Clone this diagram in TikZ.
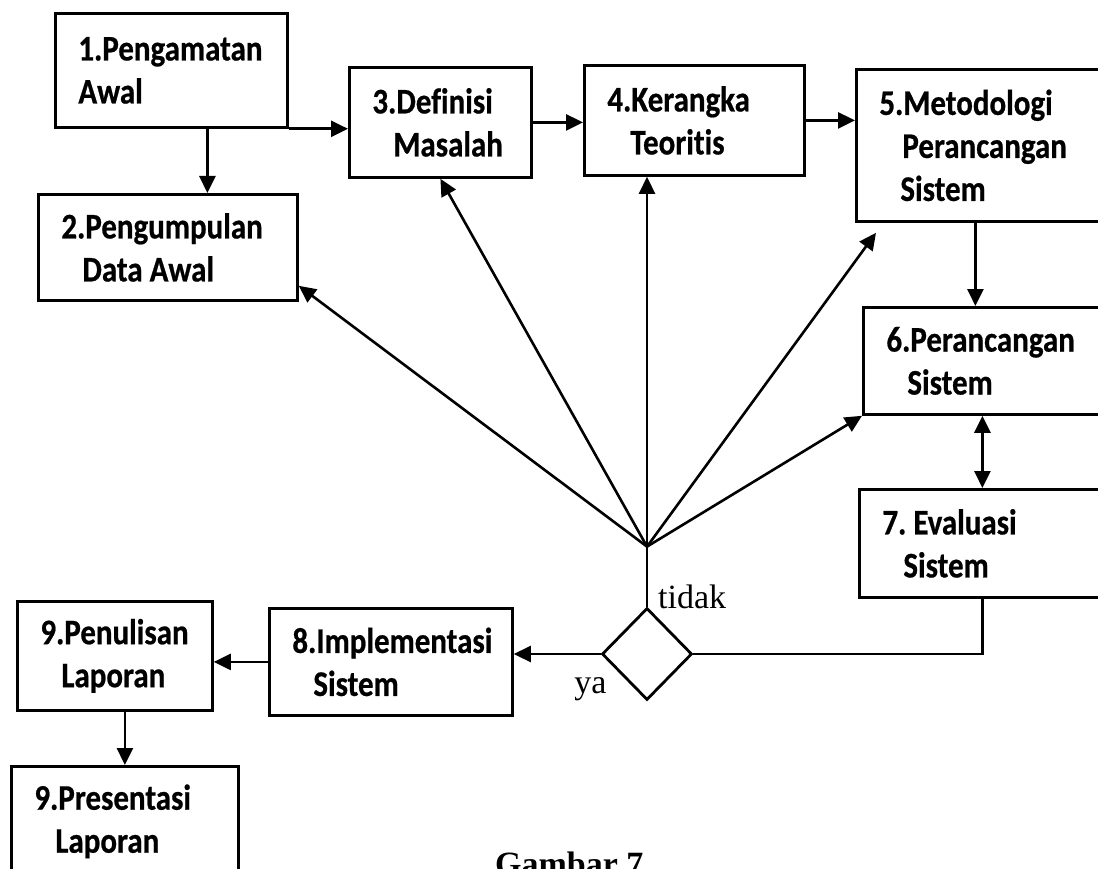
\documentclass[tikz,border=0pt]{standalone}
\usepackage{fontspec}
\setmainfont{Carlito}
\newfontfamily\boxfont{Carlito}[FakeStretch=0.86,FakeBold=0.6,Ligatures=NoCommon]
\newfontfamily\labelfont{Liberation Serif}
\usetikzlibrary{shapes.geometric,arrows.meta}

\begin{document}
\begin{tikzpicture}[x=1pt,y=-1pt,>={Triangle[length=17pt,width=16pt]},
	box/.style={draw,line width=2.8pt,anchor=north west,align=left,inner xsep=23pt,inner ysep=0pt,
		font=\boxfont\bfseries\fontsize{36}{43}\selectfont\frenchspacing,
		execute at begin node={\spaceskip=7pt\relax}},
	arr/.style={->,line width=2.6pt},
	lbl/.style={font=\labelfont\fontsize{34}{38}\selectfont,inner sep=0pt}]
	\useasboundingbox (0,0) rectangle (1098,869);
	\clip (0,0) rectangle (1098,869);
	\fill[white] (0,0) rectangle (1098,869);
	% boxes
	\node[box,text width=186pt,minimum height=114pt] (b1) at (54,12) {1.Pengamatan\\Awal};
	\node[box,text width=213pt,minimum height=106pt] (b2) at (37,193) {2.Pengumpulan\\\hspace*{21pt}Data Awal};
	\node[box,text width=136pt,minimum height=110pt] (b3) at (348,66) {3.Definisi\\\hspace*{21pt}Masalah};
	\node[box,text width=174pt,minimum height=110pt] (b4) at (583,64) {4.Kerangka\\\hspace*{23pt}Teoritis};
	\node[box,text width=234pt,minimum height=152pt] (b5) at (855,68) {5.Metodologi\\\hspace*{23pt}Perancangan\\\hspace*{21pt}Sistem};
	\node[box,text width=224pt,minimum height=107pt] (b6) at (862,306) {6.Perancangan\\\hspace*{21pt}Sistem};
	\node[box,text width=224pt,minimum height=108pt] (b7) at (858,488) {7. Evaluasi\\\hspace*{21pt}Sistem};
	\node[box,text width=197pt,minimum height=107pt] (b8) at (268,607) {8.Implementasi\\\hspace*{21pt}Sistem};
	\node[box,text width=149pt,minimum height=109pt] (b9a) at (16,600) {9.Penulisan\\\hspace*{21pt}Laporan};
	\node[box,text width=181pt,minimum height=110pt] (b9b) at (10,765) {9.Presentasi\\\hspace*{21pt}Laporan};
	\node[draw,diamond,line width=2.8pt,minimum width=90pt,minimum height=92pt,inner sep=0pt] (dm) at (647,654) {};
	\coordinate (hub) at ([yshift=60pt]dm.north);
	% flow
	\draw[arr] ([xshift=36pt]b1.south) -- ([xshift=36pt]b1.south |- b2.north);
	\draw[arr] (b1.south east) -- (b1.south east -| b3.west);
	\draw[arr] (b3.east) -- (b3.east -| b4.west);
	\draw[arr] (b4.east) -- (b4.east -| b5.west);
	\draw[arr] ([xshift=-21pt]b5.south) -- ([xshift=-21pt]b5.south |- b6.north);
	\draw[arr,<->] ([xshift=-16pt]b6.south) -- ([xshift=-16pt]b6.south |- b7.north);
	\draw[line width=2.6pt] ([xshift=-12pt]b7.south) |- (dm.east);
	\draw[arr] (dm.west) -- (dm.west -| b8.east);
	\draw[arr] (b8.west) -- (b8.west -| b9a.east);
	\draw[arr] ([xshift=10pt]b9a.south) -- ([xshift=10pt]b9a.south |- b9b.north);
	% back to earlier steps
	\draw[line width=2.6pt] (dm.north) -- (hub);
	\draw[arr] (hub) -- ([yshift=16pt]b2.south east);
	\draw[arr] (hub) -- (b3.south);
	\draw[arr] (hub) -- (hub |- b4.south);
	\draw[arr] (hub) -- ([xshift=21pt,yshift=-10pt]b5.south west);
	\draw[arr] (hub) -- (b6.south west);
	\node[lbl,anchor=base west] (tidak) at ([xshift=11pt,yshift=-2pt]dm.north) {tidak};
	\node[lbl,anchor=base east] (ya) at ([xshift=6pt,yshift=-39pt]dm.west) {ya};
	\node[font=\labelfont\bfseries\fontsize{34}{40}\selectfont,anchor=base west,inner sep=0pt] (caption) at (495,875) {Gambar 7};
\end{tikzpicture}
\end{document}
